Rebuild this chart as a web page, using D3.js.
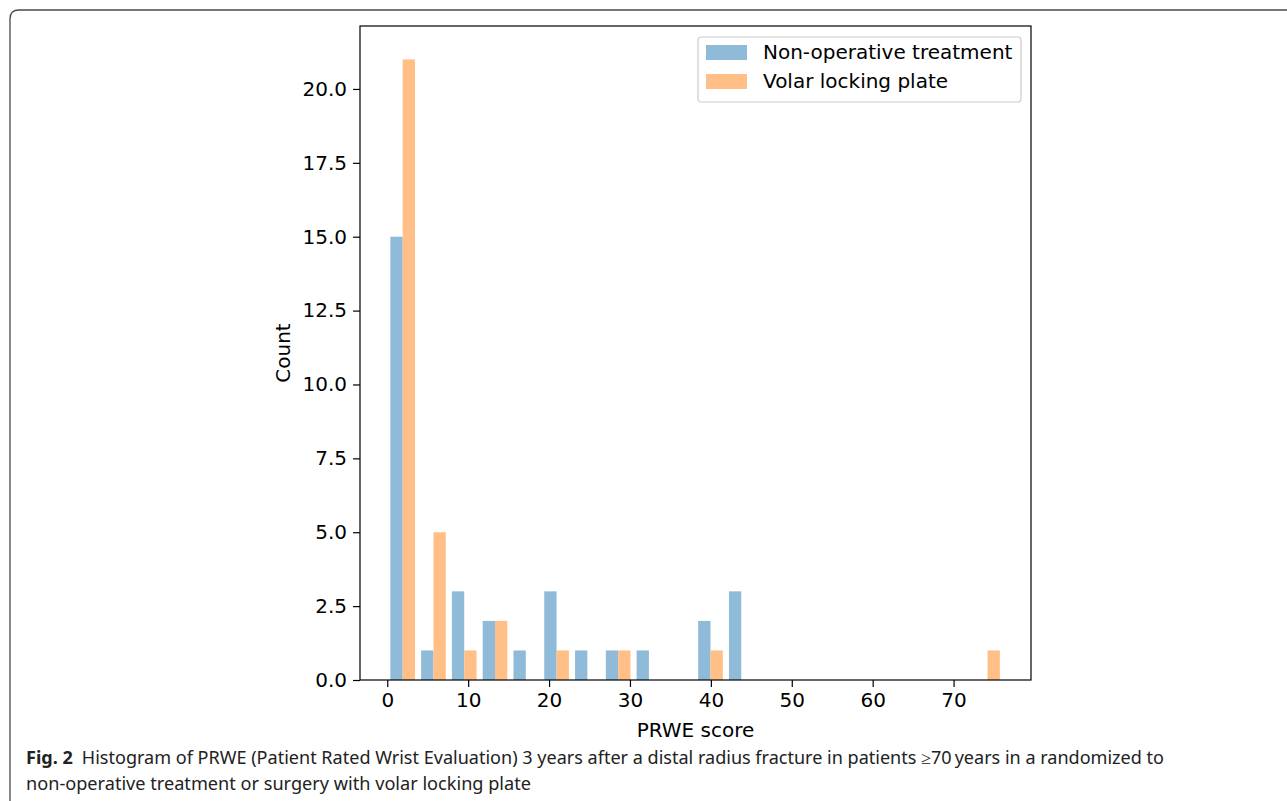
<!DOCTYPE html>
<html>
<head>
<meta charset="utf-8">
<script src="https://cdn.jsdelivr.net/npm/d3@7"></script>
<style>
body{margin:0;background:#fff;}
svg{display:block;}
</style>
</head>
<body>
<svg id="fig" width="1287" height="801"></svg>
<script>
// histogram data (20 equal bins from 0)
var binStart=0, binWidth=3.805, nBins=20;
var nonOperative=[15,1,3,2,1,3,1,1,1,0,2,3,0,0,0,0,0,0,0,0];
var volarPlate=[21,5,1,2,0,1,0,1,0,0,1,0,0,0,0,0,0,0,0,1];
var seriesNames=['Non-operative treatment','Volar locking plate'];
var seriesColors=['#8fbbd9','#ffbf86'];
var xTicks=[0,10,20,30,40,50,60,70];
var yTicks=[0,2.5,5,7.5,10,12.5,15,17.5,20];

var svg=d3.select('#fig');
var axLeft=360, axRight=1031, axTop=26, axBottom=680;
var fontSize=20;

// outer frame of the figure panel
svg.append('path')
	.attr('d','M10,820 L10,19 Q10,10 19,10 L1300,10')
	.attr('fill','none')
	.attr('stroke','#4a4a4a')
	.attr('stroke-width',1.3);

var x=d3.scaleLinear().domain([-3.37,79.57]).range([axLeft,axRight]);
var y=d3.scaleLinear().domain([0,22.13]).range([axBottom,axTop]);

var chart=svg.append('g');
var data=[nonOperative,volarPlate];

for(var s=0;s<data.length;s++){
	chart.append('g').selectAll('rect')
	.data(data[s])
	.join('rect')
	.attr('x',function(d,i){ return x(binStart+binWidth*(i+0.1+0.4*s)); })
	.attr('width',function(){ return x(binWidth*0.4)-x(0); })
	.attr('y',function(d){ return y(d); })
	.attr('height',function(d){ return y(0)-y(d); })
	.attr('fill',seriesColors[s]);
}

var xAxis=d3.axisBottom(x).tickValues(xTicks).tickSize(7).tickPadding(6).tickFormat(d3.format('d'));
var yAxis=d3.axisLeft(y).tickValues(yTicks).tickSize(7).tickPadding(6).tickFormat(d3.format('.1f'));

var gx=chart.append('g').attr('transform','translate(0,'+axBottom+')').call(xAxis);
var gy=chart.append('g').attr('transform','translate('+axLeft+',0)').call(yAxis);
[gx,gy].forEach(function(g){
	g.select('.domain').remove();
	g.selectAll('line').attr('stroke','#000').attr('stroke-width',1.2);
	g.selectAll('text').attr('font-family','DejaVu Sans').attr('font-size',fontSize).attr('fill','#000');
});

chart.append('rect')
	.attr('x',axLeft).attr('y',axTop)
	.attr('width',axRight-axLeft).attr('height',axBottom-axTop)
	.attr('fill','none').attr('stroke','#000').attr('stroke-width',1.2);

chart.append('text')
	.attr('x',(axLeft+axRight)/2).attr('y',737)
	.attr('text-anchor','middle')
	.attr('font-family','DejaVu Sans').attr('font-size',fontSize)
	.text('PRWE score');

chart.append('text')
	.attr('transform','translate(290,'+((axTop+axBottom)/2)+') rotate(-90)')
	.attr('text-anchor','middle')
	.attr('font-family','DejaVu Sans').attr('font-size',fontSize)
	.text('Count');

// legend
var legend=chart.append('g').attr('transform','translate(698,37)');
legend.append('rect')
	.attr('width',323).attr('height',65).attr('rx',3)
	.attr('fill','#fff').attr('fill-opacity',0.8)
	.attr('stroke','#cccccc').attr('stroke-width',1.2);
seriesNames.forEach(function(name,i){
	legend.append('rect')
		.attr('x',8).attr('y',8+i*29)
		.attr('width',41).attr('height',15)
		.attr('fill',seriesColors[i]);
	legend.append('text')
		.attr('x',65).attr('y',22+i*29)
		.attr('font-family','DejaVu Sans').attr('font-size',fontSize)
		.text(name);
});

// caption
var cap=svg.append('g').attr('font-family','Noto Sans').attr('font-size',17.5).attr('fill','#222');
var line1=cap.append('text').attr('x',26).attr('y',764)
	.attr('textLength',1138).attr('lengthAdjust','spacingAndGlyphs');
line1.append('tspan').attr('font-weight','bold').text('Fig. 2');
line1.append('tspan').text('\u2002Histogram of PRWE (Patient Rated Wrist Evaluation) 3 years after a distal radius fracture in patients \u226570\u2009years in a randomized to');
cap.append('text').attr('x',26).attr('y',790)
	.attr('textLength',505).attr('lengthAdjust','spacingAndGlyphs')
	.text('non-operative treatment or surgery with volar locking plate');
</script>
</body>
</html>
